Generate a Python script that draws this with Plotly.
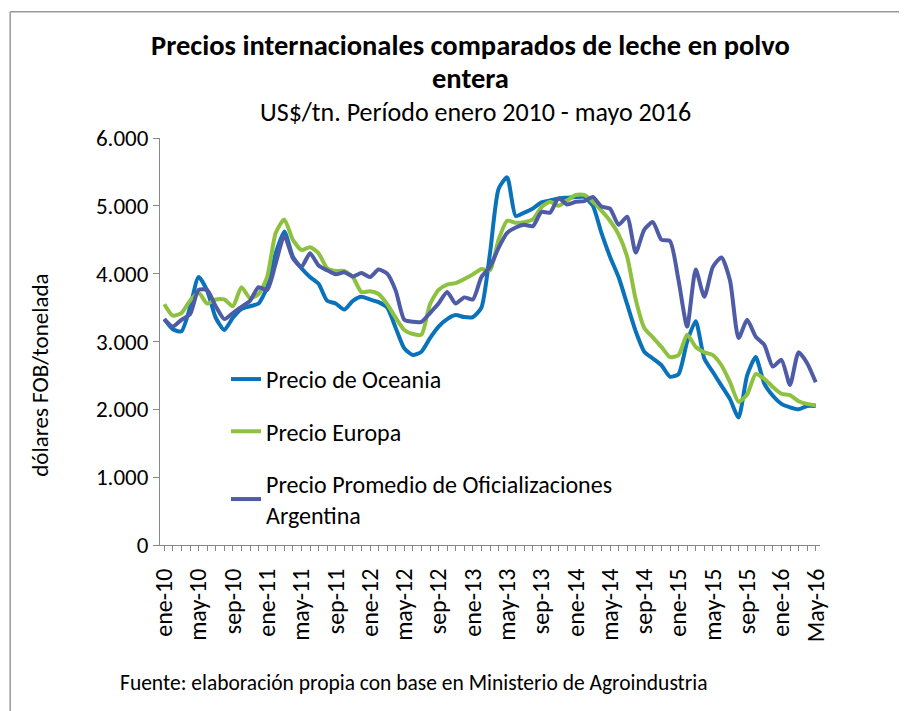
import plotly.graph_objects as go

# Meses ene-2010 a may-2016
meses = ['ene', 'feb', 'mar', 'abr', 'may', 'jun', 'jul', 'ago', 'sep', 'oct', 'nov', 'dic']
anios = ['10', '11', '12', '13', '14', '15', '16']
fechas = [m + '-' + a for a in anios for m in meses][:77]
fechas[-1] = 'May-16'

oceania = [3330, 3180, 3150, 3500, 3950, 3750, 3350, 3170, 3350, 3480,
           3520, 3560, 3800, 4300, 4620, 4250, 4080, 3950, 3850, 3600,
           3560, 3470, 3600, 3660, 3620, 3580, 3500, 3200, 2900, 2800,
           2850, 3050, 3220, 3330, 3390, 3360, 3360, 3500, 4300, 5250,
           5420, 4850, 4900, 4960, 5050, 5080, 5110, 5120, 5130, 5130,
           5000, 4600, 4250, 3950, 3550, 3150, 2850, 2750, 2650, 2480,
           2520, 3000, 3300, 2750, 2550, 2350, 2150, 1880, 2500, 2770,
           2380, 2200, 2080, 2030, 2000, 2050, 2050]

europa = [3550, 3380, 3420, 3600, 3720, 3560, 3620, 3620, 3520, 3800,
          3640, 3700, 3950, 4600, 4800, 4500, 4350, 4390, 4300, 4080,
          4040, 4040, 3950, 3730, 3740, 3700, 3550, 3350, 3170, 3110,
          3100, 3550, 3760, 3840, 3860, 3920, 3990, 4070, 4050, 4500,
          4780, 4750, 4760, 4800, 4980, 5060, 5000, 5080, 5160, 5160,
          5060, 4930, 4780, 4580, 4250, 3620, 3200, 3060, 2920, 2770,
          2800, 3100, 2920, 2840, 2800, 2650, 2400, 2110, 2220, 2520,
          2450, 2330, 2230, 2210, 2120, 2080, 2060]

argentina = [3330, 3220, 3320, 3400, 3760, 3760, 3520, 3330, 3420, 3510,
             3600, 3800, 3760, 4150, 4560, 4230, 4100, 4300, 4120, 4050,
             3990, 4020, 3960, 4010, 3950, 4060, 4000, 3750, 3320, 3290,
             3290, 3420, 3560, 3730, 3560, 3650, 3620, 3950, 4100, 4380,
             4600, 4680, 4720, 4700, 4910, 4900, 5110, 5020, 5060, 5070,
             5130, 4990, 4960, 4720, 4840, 4310, 4650, 4760, 4500, 4480,
             3900, 3220, 4060, 3660, 4100, 4240, 3900, 3050, 3320, 3070,
             2950, 2630, 2730, 2360, 2840, 2680, 2400]

series = [
    ('Precio de Oceania', oceania, '#0A72BA'),
    ('Precio Europa', europa, '#8DC13F'),
    ('Precio Promedio de Oficializaciones<br>Argentina', argentina, '#4E5BA6'),
]

fig = go.Figure()
for i, (nombre, valores, color) in enumerate(series):
    fig.add_trace(go.Scatter(
        x=fechas, y=valores, name=nombre, mode='lines',
        line=dict(color=color, width=4, shape='spline', smoothing=0.6),
        legendgroup=str(i),
    ))

fuente = 'Calibri, Carlito, Lato, sans-serif'

# la página agrega 8px de margen, se compensa aquí
fig.update_layout(
    width=907, height=711,
    paper_bgcolor='white', plot_bgcolor='white',
    margin=dict(l=152, r=95, t=130, b=174),
    separators=',.',
    font=dict(family=fuente, color='black', size=20),
    showlegend=True,
    legend=dict(
        x=0.1, y=0.462, xanchor='left', yanchor='top',
        bgcolor='rgba(0,0,0,0)', font=dict(size=24, family=fuente),
        tracegroupgap=18, traceorder='grouped',
    ),
    xaxis=dict(
        type='category', range=[-0.5, 76.5],
        tickmode='array', tickvals=fechas,
        ticktext=[f if i % 4 == 0 else '' for i, f in enumerate(fechas)],
        tickangle=-90, ticks='outside', ticklen=5, tickcolor='#888',
        ticklabelstandoff=8,
        showline=True, linecolor='#888', linewidth=1,
        showgrid=False, tickfont=dict(size=24, family=fuente),
    ),
    yaxis=dict(
        range=[0, 6000], tickvals=[0, 1000, 2000, 3000, 4000, 5000, 6000],
        tickformat=',d', ticks='outside', ticklen=6, tickcolor='#888',
        showline=True, linecolor='#888', linewidth=1, showgrid=False,
        zeroline=False, tickfont=dict(size=23, family=fuente),
    ),
    annotations=[
        dict(text='<b>Precios internacionales comparados de leche en polvo</b>',
             xref='paper', yref='paper', x=0.471, y=1.2285, xanchor='center', yanchor='middle',
             showarrow=False, font=dict(size=28.5, family=fuente)),
        dict(text='<b>entera</b>',
             xref='paper', yref='paper', x=0.471, y=1.1474, xanchor='center', yanchor='middle',
             showarrow=False, font=dict(size=28.5, family=fuente)),
        dict(text='US$/tn. Período enero 2010 - mayo 2016',
             xref='paper', yref='paper', x=0.478, y=1.0639, xanchor='center', yanchor='middle',
             showarrow=False, font=dict(size=26, family=fuente)),
        dict(text='dólares FOB/tonelada',
             xref='paper', yref='paper', x=-0.182, y=0.418, xanchor='center', yanchor='middle',
             textangle=-90, showarrow=False, font=dict(size=23, family=fuente)),
        dict(text='Fuente: elaboración propia con base en Ministerio de Agroindustria',
             xref='paper', yref='paper', x=-0.0636, y=-0.339, xanchor='left', yanchor='middle',
             showarrow=False, font=dict(size=21.5, family=fuente)),
    ],
    shapes=[
        dict(type='line', xref='paper', yref='paper', x0=-0.227, x1=1.2,
             y0=1.31, y1=1.31, line=dict(color='#999', width=1.5)),
        dict(type='line', xref='paper', yref='paper', x0=-0.227, x1=-0.227,
             y0=1.31, y1=-0.5, line=dict(color='#999', width=1.5)),
    ],
)

fig.write_html('out.html')
